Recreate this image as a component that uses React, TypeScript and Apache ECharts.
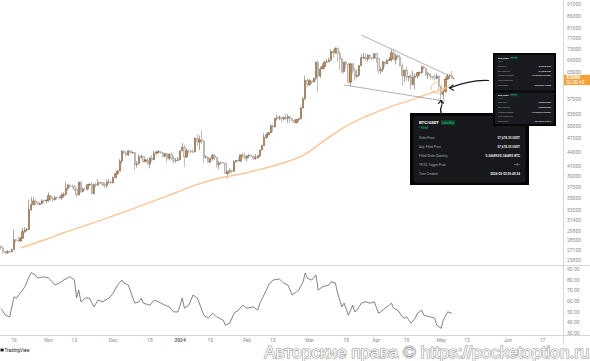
import React, { useEffect, useRef } from 'react';
import * as echarts from 'echarts';

// ---------------- DATA ----------------
const START_DATE = Date.UTC(2023, 9, 10); // first category: 2023-10-10
const DAY_COUNT = 261; // axis runs to 2024-06-26

const firstOpen = 27590;
const closes = [
  // Oct 10 - Oct 31
  27390, 26870, 26760, 26860, 26860, 27150, 28520, 28420, 28330, 28720, 29680, 29920, 29990, 33090, 33900, 34500, 34160, 33910, 34090, 34540, 34500, 34670,
  // Nov
  35420, 34940, 34730, 35080, 35050, 35040, 35420, 35630, 36700, 37320, 37130, 37060, 36490, 35550, 37880, 36160, 36600, 36580, 37390, 37470, 35810, 37410, 37290, 37720, 37790, 37450, 37240, 37830, 37850, 37720,
  // Dec
  38690, 39470, 39970, 41990, 44080, 43750, 43290, 44170, 43720, 43790, 41240, 41450, 42890, 43020, 41930, 42240, 41360, 42660, 42260, 43650, 43860, 43990, 43740, 43010, 43600, 42520, 43440, 42580, 42070, 42140, 42280,
  // Jan
  44180, 44950, 42850, 44170, 44160, 43970, 43930, 46970, 46110, 46630, 46340, 42780, 42840, 41730, 42510, 43140, 42740, 41260, 41620, 41660, 41580, 39500, 39850, 40080, 39940, 41820, 42120, 42030, 43300, 42940, 42580,
  // Feb
  43080, 43190, 42990, 42580, 42660, 43090, 44340, 45290, 47150, 47770, 48290, 49960, 49700, 51800, 51940, 52120, 51660, 52120, 51780, 52280, 51840, 51300, 50730, 51570, 51730, 54520, 57090, 62500, 61200,
  // Mar
  62390, 62030, 63170, 68330, 63800, 66100, 66930, 68300, 68500, 69020, 72120, 71480, 73080, 71390, 69400, 65300, 68390, 67610, 61940, 67840, 65500, 63800, 64100, 67210, 69900, 69990, 69470, 70780, 69880, 69640, 71330,
  // Apr
  69650, 65470, 65980, 68500, 67830, 68900, 69360, 71620, 69140, 70590, 70060, 67160, 63920, 65660, 63420, 63810, 61280, 63470, 63820, 64940, 64940, 66840, 66410, 64290, 64500, 63770, 63460, 63120, 63840, 60640,
  // May
  58250, 59120, 62890, 63890, 64030, 63160, 63080,
];
const highs = [
  27740, 27480, 26940, 27100, 26990, 27290, 30000, 28600, 28980, 28910, 30180, 30320, 30210, 34740, 35200, 35090, 34800, 34450, 34340, 34800, 34740, 34720,
  35980, 35570, 35270, 35380, 35260, 35400, 35890, 35990, 37930, 37500, 37480, 37430, 37340, 36760, 37950, 37960, 36850, 36840, 37490, 37650, 37860, 37600, 37870, 38400, 37850, 37850, 37800, 38370, 38410, 38160,
  38940, 39590, 40200, 42400, 44410, 44260, 44060, 44250, 44330, 44030, 43850, 42010, 43390, 43340, 43030, 42420, 42740, 42760, 43310, 44240, 44220, 44310, 44020, 43900, 43670, 43600, 43680, 43790, 43140, 42590, 42870,
  44190, 45880, 45500, 44730, 44500, 44230, 44470, 47210, 47890, 47650, 49000, 46500, 43250, 43030, 42730, 43550, 43540, 42880, 42000, 41870, 41850, 41680, 40140, 40540, 40260, 42160, 42220, 42790, 43310, 43840, 43720,
  43290, 43460, 43440, 43120, 43500, 43330, 44380, 45560, 48160, 48150, 48540, 50340, 50360, 52000, 52780, 52570, 52180, 52340, 52950, 52950, 52370, 51960, 51550, 51650, 51970, 54890, 57520, 63910, 63230,
  62950, 62430, 63250, 68530, 69000, 67000, 67990, 68990, 69490, 69910, 72800, 72910, 73640, 73780, 72360, 70030, 68450, 68900, 68100, 68000, 68000, 66630, 65950, 67370, 71150, 71480, 71600, 71160, 70600, 70020, 71360,
  71440, 69700, 66890, 68890, 68600, 69430, 70200, 72800, 72750, 71300, 71250, 70960, 67930, 65800, 66860, 63850, 64440, 65460, 64650, 65100, 65340, 67200, 67180, 66400, 65220, 64790, 63820, 64360, 64650, 63840,
  60780, 59580, 63300, 64500, 64450, 65490, 63640,
];
const lows = [
  27130, 26560, 26560, 26580, 26800, 26840, 27120, 28120, 28150, 28200, 28640, 29450, 29660, 29880, 32830, 33730, 33750, 33870, 33810, 33970, 34080, 34070,
  34300, 34520, 34350, 34580, 34740, 34790, 34710, 35090, 35560, 36350, 36780, 36730, 36320, 35120, 35500, 35870, 35960, 36520, 36330, 37180, 35660, 35660, 36900, 37250, 37530, 37140, 36790, 36780, 37570, 37520,
  37630, 38660, 39290, 39970, 41460, 43380, 42960, 43050, 43590, 43510, 40230, 40690, 41440, 42430, 41680, 41700, 41270, 40530, 41850, 42220, 43320, 43640, 43590, 42780, 42770, 41700, 42130, 42300, 41520, 41630, 41990,
  42180, 44180, 40750, 42620, 43630, 43570, 43640, 43880, 45250, 44350, 45600, 41500, 42480, 41720, 41700, 42060, 42220, 40680, 40330, 41450, 41430, 39460, 38560, 39490, 39560, 39830, 41680, 41810, 41830, 42700, 42290,
  41890, 42580, 42850, 42280, 42270, 42620, 42770, 44280, 45250, 46870, 47710, 48150, 48390, 49550, 51310, 51360, 50710, 51290, 51430, 50690, 50650, 50940, 50550, 50580, 50930, 51560, 54470, 56700, 60400,
  60800, 61350, 61800, 62400, 59000, 63280, 66230, 66180, 68050, 68360, 68930, 69800, 71380, 68590, 65600, 64600, 64770, 66160, 61600, 60800, 64600, 62330, 63020, 63550, 66950, 69290, 68810, 68460, 69250, 69010, 69610,
  68110, 64580, 64510, 65110, 66880, 67630, 68850, 68500, 69000, 67570, 69580, 66910, 60810, 61900, 62320, 62250, 59770, 60870, 59700, 63100, 63930, 64500, 65850, 63850, 62900, 62800, 62800, 62470, 62820, 59230,
  56550, 56940, 58830, 62680, 62960, 62920, 62700,
];

// moving average, [day index, value]
const emaDays = [9, 20, 30, 40, 50, 60, 70, 80, 90, 100, 110, 120, 130, 140, 150, 160, 170, 180, 190, 200, 208];
const emaValues = [27370, 28470, 29610, 30680, 31830, 33060, 34400, 35800, 37300, 38500, 39300, 40300, 41500, 43200, 46500, 49900, 52500, 54800, 56700, 58900, 60600];

// RSI pane, [day index, value]
const rsiPoints = [
  [0, 52.9], [2, 46.6], [4, 45.0], [6, 63.9], [7, 62.6], [10, 70.2], [11, 73.3], [13, 82.7], [14, 86.5], [16, 84.3], [17, 81.5], [20, 82.7], [22, 81.5], [23, 79.6], [25, 74.9], [27, 76.8], [29, 79.6], [32, 82.7], [34, 79.6], [35, 63.0], [36, 70.2], [37, 59.2], [39, 62.6], [41, 62.6], [43, 54.4], [45, 60.8], [47, 59.2], [50, 62.6], [52, 67.4], [54, 74.9], [56, 79.6], [57, 76.8], [59, 74.9], [62, 57.9], [64, 59.2], [65, 62.6], [66, 57.9], [69, 56.0], [71, 60.8], [73, 59.2], [76, 56.0], [78, 54.4], [80, 49.7], [82, 49.7], [84, 62.6], [85, 53.2], [87, 56.0], [89, 65.5], [91, 62.6], [94, 46.6], [95, 45.0], [96, 43.8], [98, 48.5], [100, 45.0], [103, 41.9], [104, 37.2], [106, 39.1], [108, 48.5], [110, 51.3], [112, 56.0], [114, 53.2], [117, 54.4], [119, 51.3], [120, 57.9], [123, 70.2], [124, 74.9], [126, 79.6], [129, 80.6], [131, 76.8], [133, 74.9], [135, 65.5], [138, 70.2], [140, 78.0], [141, 86.2], [142, 81.5], [144, 79.6], [146, 84.3], [147, 70.2], [149, 73.3], [152, 74.9], [153, 78.0], [155, 76.8], [156, 67.4], [158, 54.4], [159, 57.9], [161, 46.6], [163, 56.0], [164, 49.7], [165, 51.3], [167, 57.9], [169, 59.2], [171, 57.9], [173, 59.2], [175, 48.5], [176, 49.7], [178, 53.2], [179, 54.4], [181, 57.9], [182, 53.2], [184, 51.3], [186, 45.0], [187, 43.8], [188, 45.0], [190, 39.1], [192, 43.8], [193, 48.5], [195, 51.3], [196, 46.6], [199, 45.0], [201, 43.8], [202, 37.2], [204, 34.3], [205, 41.9], [207, 49.7], [209, 48.5],
];

// trend lines drawn on the chart, [day index, price]
const upperTrend = [[167, 78100], [207, 64200]];
const lowerTrend = [[159, 61100], [206, 56400]];

const priceTicks = [91000, 86000, 81000, 77000, 73000, 69000, 65000, 57000, 53000, 50000, 47000, 44000, 41000, 39000, 37000, 35000, 33000, 31400, 29800, 28500, 27100, 25800];
const rsiTicks = [30, 40, 50, 60, 70, 80, 90];
const xTickDates = ['2023-10-16', '2023-11-01', '2023-11-13', '2023-12-01', '2023-12-18', '2024-01-01', '2024-01-15', '2024-02-01', '2024-02-13', '2024-03-01', '2024-03-18', '2024-04-01', '2024-04-15', '2024-05-01', '2024-05-13', '2024-06-01', '2024-06-17'];
const xTickTexts = ['16', 'Nov', '13', 'Dec', '18', '2024', '15', 'Feb', '13', 'Mar', '18', 'Apr', '15', 'May', '13', 'Jun', '17'];

const lastPriceText = '63080';
const countdownText = '02:00:43';

const orderMain = {
  pair: 'BTC/USDT', badge: 'Limit Buy', status: '• Filled',
  rows: [
    ['Order Price', '57,678.35 USDT'],
    ['Avg. Filled Price', '57,678.35 USDT'],
    ['Filled/Order Quantity', '0.346892/0.346892 BTC'],
    ['TP/SL Trigger Price', '--/--'],
    ['Time Created', '2024-05-02 05:49:24'],
  ],
};
const orderTop = {
  pair: 'BTC/USDT', badge: 'Limit Sell', status: '• Filled',
  rows: [
    ['Order Price', '63,238.80 USDT'],
    ['Avg. Filled Price', '63,238.80 USDT'],
    ['Filled/Order Quantity', '0.315610/0.315610 BTC'],
    ['TP/SL Trigger Price', '--'],
    ['Time Created', '2024-05-06 10:25:08'],
  ],
};
const orderBottom = {
  pair: 'BTC/USDT', badge: 'Limit Sell', status: '• Filled',
  rows: [
    ['Order Price', '62,880.00 USDT'],
    ['Avg. Filled Price', '62,880.00 USDT'],
    ['Filled/Order Quantity', '0.317990/0.317990 BTC'],
    ['TP/SL Trigger Price', '--'],
    ['Time Created', '2024-05-05 15:22:46'],
  ],
};

const watermarkText = 'Авторские права © https://pocketoption.ru';

// ---------------- BUILD ----------------
const categories: string[] = [];
for (let i = 0; i < DAY_COUNT; i++) {
  categories.push(new Date(START_DATE + i * 86400000).toISOString().slice(0, 10));
}
const candleData = closes.map((c, i) => [i === 0 ? firstOpen : closes[i - 1], c, lows[i], highs[i]]);
const emaData = emaDays.map((d, i) => [d, emaValues[i]]);
const xTickMap: Record<string, string> = {};
xTickDates.forEach((d, i) => (xTickMap[d] = xTickTexts[i]));

const FONT = 'Roboto, "Noto Sans", sans-serif';
const GREEN = '#20c27a';

function t(x: number, y: number, text: string, size: number, fill: string, align = 'left', weight = 'normal') {
  return {
    type: 'text', x, y, z: 100, silent: true,
    style: { text, fontSize: size, fill, fontFamily: FONT, fontWeight: weight, align, verticalAlign: 'middle' },
  };
}
function r(x: number, y: number, w: number, h: number, fill: string, rad = 0) {
  return { type: 'rect', z: 99, silent: true, shape: { x, y, width: w, height: h, r: rad }, style: { fill } };
}

function orderCard(o: any, x: number, y: number, w: number, scale: number, rowYs: number[]) {
  const els: any[] = [];
  els.push(t(x, y, o.pair, 4.2 * scale, '#ffffff', 'left', 'bold'));
  els.push(r(x + 22 * scale, y - 2.3 * scale, 14 * scale, 4.6 * scale, '#134a32', 0.6));
  els.push(t(x + 29 * scale, y, o.badge, 2.9 * scale, GREEN, 'center'));
  els.push(t(x, y + 5.5 * scale, o.status, 3 * scale, GREEN));
  o.rows.forEach((row: string[], i: number) => {
    els.push(t(x, rowYs[i], row[0], 3.1 * scale, '#a9abb2'));
    els.push(t(x + w, rowYs[i], row[1], 3.1 * scale, '#e8e8ea', 'right', 'bold'));
  });
  return els;
}

export default function App() {
  const ref = useRef<HTMLDivElement>(null);
  useEffect(() => {
    if (!ref.current) return;
    const chart = echarts.init(ref.current, undefined, { renderer: 'svg' });
    const axisText = { fontSize: 5, color: '#8c8c8c', fontFamily: FONT };
    chart.setOption({
      animation: false,
      backgroundColor: '#ffffff',
      grid: [
        { left: -2, right: 27, top: 0, height: 265 },
        { left: -2, right: 27, top: 265, height: 70 },
      ],
      xAxis: [
        {
          type: 'category', gridIndex: 0, data: categories, boundaryGap: true,
          axisLine: { show: false }, axisTick: { show: false }, axisLabel: { show: false }, splitLine: { show: false },
        },
        {
          type: 'category', gridIndex: 1, data: categories, boundaryGap: true,
          axisLine: { show: false }, axisTick: { show: false }, splitLine: { show: false },
          axisLabel: {
            ...axisText, margin: 2.5,
            interval: (_i: number, v: string) => v in xTickMap,
            formatter: (v: string) => (xTickMap[v] === '2024' ? '{b|2024}' : xTickMap[v] || ''),
            rich: { b: { fontSize: 5, fontWeight: 'bold', color: '#666', fontFamily: FONT } },
          },
        },
      ],
      yAxis: [
        {
          type: 'log', logBase: 10, gridIndex: 0, position: 'right', min: 25170, max: 92850,
          axisLine: { show: false }, axisTick: { show: false }, splitLine: { show: false },
          axisLabel: { ...axisText, margin: 4, customValues: priceTicks, formatter: (v: number) => String(Math.round(v)) },
        },
        {
          type: 'value', gridIndex: 1, position: 'right', min: 28, max: 93.75,
          axisLine: { show: false }, axisTick: { show: false }, splitLine: { show: false },
          axisLabel: { ...axisText, margin: 4, customValues: rsiTicks, formatter: (v: number) => v.toFixed(2) },
        },
      ],
      series: [
        {
          type: 'candlestick', xAxisIndex: 0, yAxisIndex: 0, data: candleData, barWidth: 1.8, z: 3,
          itemStyle: { color: '#cf8f4a', color0: '#e6e0d8', borderColor: '#5e4834', borderColor0: '#85807a', borderWidth: 0.5 },
        },
        {
          type: 'line', xAxisIndex: 0, yAxisIndex: 0, data: emaData, smooth: 0.35, showSymbol: false, z: 4,
          lineStyle: { color: '#f7c795', width: 1.4 },
        },
        {
          type: 'line', xAxisIndex: 0, yAxisIndex: 0, data: upperTrend, showSymbol: false, z: 5,
          lineStyle: { color: '#7a7a7a', width: 0.6 },
        },
        {
          type: 'line', xAxisIndex: 0, yAxisIndex: 0, data: lowerTrend, showSymbol: false, z: 5,
          lineStyle: { color: '#7a7a7a', width: 0.6 },
        },
        {
          type: 'line', xAxisIndex: 1, yAxisIndex: 1, data: rsiPoints, showSymbol: false, z: 3,
          lineStyle: { color: '#4d4d4d', width: 0.7 },
        },
      ],
    });

    const last = chart.convertToPixel({ gridIndex: 0 }, [closes.length - 1, closes[closes.length - 1]]) as number[];
    const py = last ? last[1] : 78;

    const g: any[] = [];
    // pane frames
    const lineStyle = { stroke: '#d6d6d6', lineWidth: 1 };
    g.push({ type: 'line', z: 50, silent: true, shape: { x1: 0, y1: 265.5, x2: 590, y2: 265.5 }, style: lineStyle });
    g.push({ type: 'line', z: 50, silent: true, shape: { x1: 0, y1: 335.5, x2: 590, y2: 335.5 }, style: lineStyle });
    g.push({ type: 'line', z: 50, silent: true, shape: { x1: 563.5, y1: 0, x2: 563.5, y2: 343 }, style: lineStyle });

    // last price label
    g.push(r(564, py - 3.6, 26, 10.2, '#f4a238'));
    g.push(t(566.5, py - 0.8, lastPriceText, 4.8, '#ffffff', 'left', 'bold'));
    g.push(t(566.5, py + 4.1, countdownText, 4.6, '#ffffff'));

    // orange circle and arrows
    g.push({ type: 'circle', z: 60, silent: true, shape: { cx: 436.7, cy: 88, r: 5.3 }, style: { fill: 'none', stroke: '#f6c08e', lineWidth: 0.9 } });
    const arrowStyle = { stroke: '#151515', lineWidth: 1.1, fill: 'none' };
    g.push({ type: 'bezierCurve', z: 60, silent: true, shape: { x1: 489, y1: 80.5, cpx1: 474, cpy1: 79.5, cpx2: 462, cpy2: 83, x2: 449.5, y2: 88 }, style: arrowStyle });
    g.push({ type: 'polyline', z: 60, silent: true, shape: { points: [[453.5, 84.6], [449.5, 88], [454, 90.6]] }, style: arrowStyle });
    g.push({ type: 'bezierCurve', z: 60, silent: true, shape: { x1: 441.5, y1: 113.5, cpx1: 438, cpy1: 108, cpx2: 444.5, cpy2: 105.5, x2: 441, y2: 101 }, style: arrowStyle });
    g.push({ type: 'polyline', z: 60, silent: true, shape: { points: [[438.2, 104], [441, 100.3], [443.8, 103.6]] }, style: arrowStyle });

    // main order card
    g.push(r(410, 113, 119, 72, '#060607'));
    g.push(r(413.5, 116, 112, 66.5, '#17181c', 3));
    g.push(...orderCard(orderMain, 419, 122.5, 101, 1, [138, 147, 156, 165, 173.5]));

    // top-right order cards
    g.push(r(493, 53, 63, 73, '#060607'));
    g.push(r(495, 55, 59, 35.5, '#1a1b20', 1.5));
    g.push(r(495, 92.5, 59, 31.5, '#1a1b20', 1.5));
    g.push(...orderCard(orderTop, 498, 58, 53, 0.55, [66, 70.7, 75.3, 80, 84.7]));
    g.push(...orderCard(orderBottom, 498, 95, 53, 0.55, [102.3, 107, 111.7, 116, 120.7]));

    // TradingView logo
    g.push(r(0.5, 348.6, 3.2, 2.8, '#131722'));
    g.push(t(4.5, 350.2, 'TradingView', 4.6, '#131722'));

    // watermark
    g.push({
      type: 'text', z: 120, silent: true, x: 589.5, y: 352.4,
      style: {
        text: watermarkText, fontSize: 17.2, fontFamily: '"Liberation Sans", Arial, sans-serif',
        fill: '#ffffff', stroke: '#8a8a8a', lineWidth: 1.1, align: 'right', verticalAlign: 'middle',
      },
    });

    chart.setOption({ graphic: g });
    return () => chart.dispose();
  }, []);
  return <div ref={ref} style={{ position: 'absolute', left: 0, top: 0, width: 590, height: 361 }} />;
}
